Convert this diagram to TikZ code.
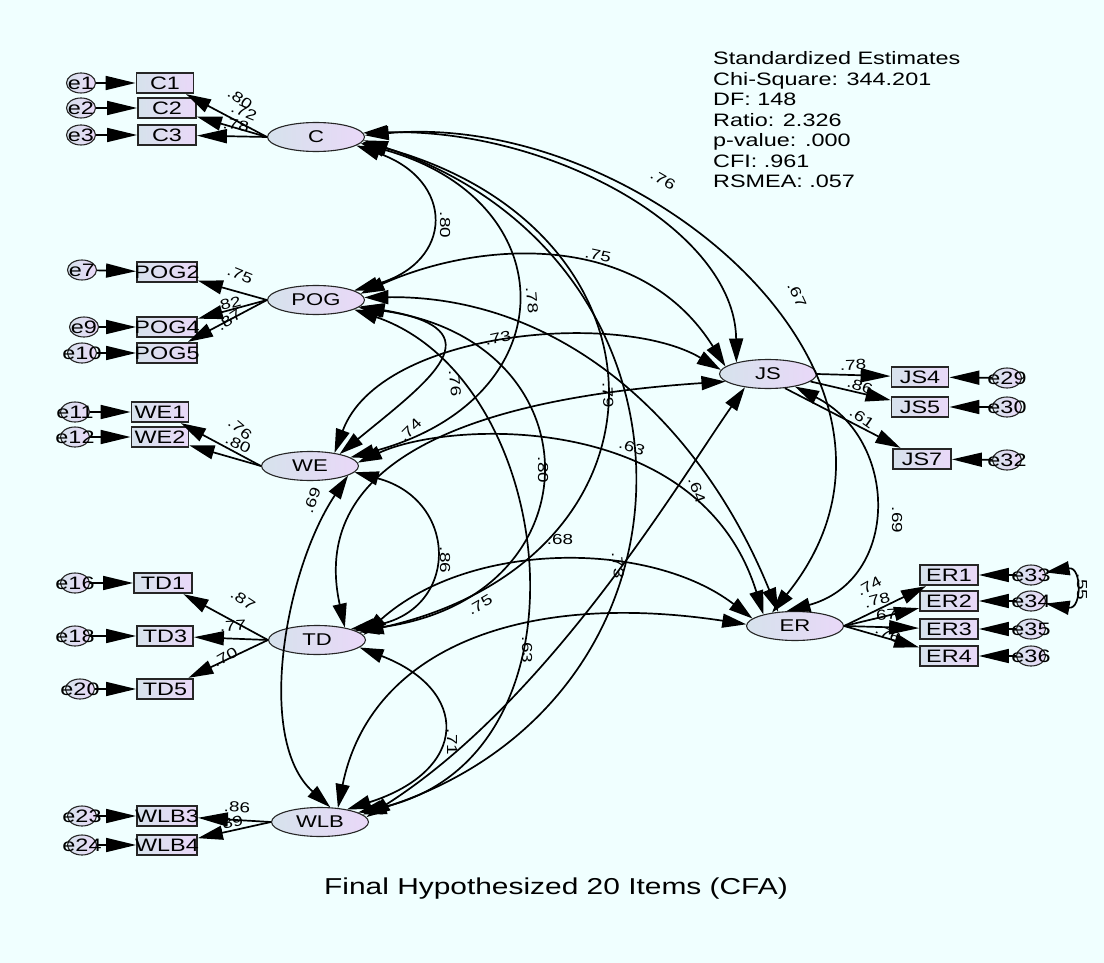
\documentclass[tikz,border=0pt]{standalone}
\usepackage{fontspec}
\setmainfont{Liberation Sans}[FakeStretch=1.3]
\usetikzlibrary{shapes.geometric,arrows.meta}
\definecolor{bgcol}{RGB}{240,255,255}
\definecolor{shadeL}{RGB}{214,226,236}
\definecolor{shadeR}{RGB}{233,216,248}
\tikzset{
  lat/.style={ellipse, draw=black!85, line width=1.1pt, minimum width=97pt, minimum height=29pt,
    inner sep=0pt, left color=shadeL, right color=shadeR, font=\fontsize{17}{17}\selectfont},
  obs/.style={rectangle, draw=black!85, line width=1.8pt, minimum width=58pt, minimum height=20.5pt,
    inner sep=0pt, left color=shadeL, right color=shadeR, font=\fontsize{18}{18}\selectfont},
  err/.style={ellipse, draw=black!85, line width=1.1pt, minimum width=29pt, minimum height=20pt,
    inner sep=0pt, left color=shadeL, right color=shadeR, font=\fontsize{18}{18}\selectfont},
  ld/.style={-{Triangle[length=30pt,width=14pt]}, line width=1.7pt},
  ldd/.style={-{Triangle[length=25pt,width=14pt]}, line width=1.7pt},
  cov/.style={{Triangle[length=24pt,width=14pt]}-{Triangle[length=24pt,width=14pt]}, line width=1.7pt},
  lbl/.style={inner sep=0pt, font=\fontsize{14.5}{14.5}\selectfont}
}
\newcommand{\ovl}[1]{\makebox[0pt]{#1}}
\begin{document}
\begin{tikzpicture}[x=1pt,y=-1pt]
\fill[bgcol] (0,0) rectangle (1104,963);
\useasboundingbox (0,0) rectangle (1104,963);

% latent variables
\node[lat] (C)   at (316,137) {C};
\node[lat] (POG) at (316,300) {POG};
\node[lat] (WE)  at (310,466) {WE};
\node[lat] (TD)  at (317,640) {TD};
\node[lat] (WLB) at (320,822) {WLB};
\node[lat] (JS)  at (768,374) {JS};
\node[lat] (ER)  at (795,626) {ER};

% indicators
\node[obs, minimum width=57pt] (C1) at (165,83) {\ovl{C1}};
\node[obs] (C2) at (167,108) {\ovl{C2}};
\node[obs] (C3) at (167,135) {\ovl{C3}};
\node[obs, minimum width=60pt] (POG2) at (167,272) {\ovl{POG2}};
\node[obs, minimum width=60pt] (POG4) at (167,327) {\ovl{POG4}};
\node[obs, minimum width=60pt] (POG5) at (167,353) {\ovl{POG5}};
\node[obs, minimum width=57pt] (WE1) at (160,412) {\ovl{WE1}};
\node[obs, minimum width=57pt] (WE2) at (160,437) {\ovl{WE2}};
\node[obs] (TD1) at (163,583) {\ovl{TD1}};
\node[obs, minimum width=56pt] (TD3) at (165,636) {\ovl{TD3}};
\node[obs, minimum width=56pt] (TD5) at (165,689) {\ovl{TD5}};
\node[obs, minimum width=60pt] (WLB3) at (167,816) {\ovl{WLB3}};
\node[obs, minimum width=60pt] (WLB4) at (167,845) {\ovl{WLB4}};
\node[obs, minimum width=57pt] (JS4) at (920,377) {\ovl{JS4}};
\node[obs, minimum width=57pt] (JS5) at (920,407) {\ovl{JS5}};
\node[obs, minimum width=58pt] (JS7) at (922,459) {\ovl{JS7}};
\node[obs] (ER1) at (949,575) {\ovl{ER1}};
\node[obs] (ER2) at (949,601) {\ovl{ER2}};
\node[obs] (ER3) at (949,629) {\ovl{ER3}};
\node[obs] (ER4) at (949,656) {\ovl{ER4}};

% error terms
\node[err] (e1)  at (81,83)  {\ovl{e1}};
\node[err] (e2)  at (81,108) {\ovl{e2}};
\node[err] (e3)  at (81,135) {\ovl{e3}};
\node[err] (e7)  at (82,270) {\ovl{e7}};
\node[err] (e9)  at (84,327) {\ovl{e9}};
\node[err] (e10) at (82,353) {\ovl{e10}};
\node[err] (e11) at (75,412) {\ovl{e11}};
\node[err] (e12) at (75,437) {\ovl{e12}};
\node[err] (e16) at (75,583) {\ovl{e16}};
\node[err] (e18) at (75,636) {\ovl{e18}};
\node[err] (e20) at (80,689) {\ovl{e20}};
\node[err] (e23) at (82,816) {\ovl{e23}};
\node[err] (e24) at (82,845) {\ovl{e24}};
\node[err] (e29) at (1007,378) {\ovl{e29}};
\node[err] (e30) at (1007,407) {\ovl{e30}};
\node[err] (e32) at (1007,460) {\ovl{e32}};
\node[err] (e33) at (1031,575) {\ovl{e33}};
\node[err] (e34) at (1031,601) {\ovl{e34}};
\node[err] (e35) at (1031,629) {\ovl{e35}};
\node[err] (e36) at (1031,656) {\ovl{e36}};

% error paths
\foreach \e/\v in {e1/C1,e2/C2,e3/C3,e7/POG2,e9/POG4,e10/POG5,e11/WE1,e12/WE2,
  e16/TD1,e18/TD3,e20/TD5,e23/WLB3,e24/WLB4,e29/JS4,e30/JS5,e32/JS7,
  e33/ER1,e34/ER2,e35/ER3,e36/ER4}
  \draw[ld] (\e) -- (\v);

% loadings
\draw[ldd] (C.west) -- (C1);
\draw[ldd] (C.west) -- (C2);
\draw[ld]  (C.west) -- (C3);
\draw[ldd] (POG.west) -- (POG2);
\draw[ldd] (POG.west) -- (POG4);
\draw[ldd] (POG.west) -- (POG5);
\draw[ldd] (WE.west) -- (WE1);
\draw[ldd] (WE.west) -- (WE2);
\draw[ldd] (TD.west) -- (TD1);
\draw[ld]  (TD.west) -- (TD3);
\draw[ldd] (TD.west) -- (TD5);
\draw[ld]  (WLB.west) -- (WLB3);
\draw[ldd] (WLB.west) -- (WLB4);
\draw[ld]  (JS.east) -- (JS4);
\draw[ldd] (JS.-10) -- (JS5);
\draw[ldd] (JS.-40) -- (JS7);
\draw[ldd] (ER.east) -- (ER1);
\draw[ldd] (ER.east) -- (ER2);
\draw[ld]  (ER.east) -- (ER3);
\draw[ldd] (ER.east) -- (ER4);

% loading estimates
\node[lbl, rotate=-35] (m1) at (240,99) {.80};
\node[lbl, rotate=-22] (m2) at (244,112) {.72};
\node[lbl, rotate=-8]  (m3) at (236,125) {.78};
\node[lbl, rotate=-22] (m4) at (240,275) {.75};
\node[lbl, rotate=15]  (m5) at (228,304) {.82};
\node[lbl, rotate=33]  (m6) at (229,320) {.87};
\node[lbl, rotate=-40] (m7) at (240,429) {.76};
\node[lbl, rotate=-25] (m8) at (238,444) {.80};
\node[lbl, rotate=-34] (m9) at (243,600) {.87};
\node[lbl, rotate=3]   (m10) at (233,626) {.77};
\node[lbl, rotate=30]  (m11) at (225,657) {.70};
\node[lbl, rotate=-3]  (m12) at (237,807) {.86};
\node[lbl, rotate=15]  (m13) at (230,823) {.89};
\node[lbl, rotate=2]   (m14) at (853,365) {.78};
\node[lbl, rotate=-18] (m15) at (860,386) {.86};
\node[lbl, rotate=-35] (m16) at (862,418) {.61};
\node[lbl, rotate=30]  (m17) at (869,586) {.74};
\node[lbl, rotate=15]  (m18) at (877,600) {.78};
\node[lbl, rotate=3]   (m19) at (884,615) {.67};
\node[lbl, rotate=-25] (m20) at (888,634) {.76};

% covariances among latent variables
\draw[cov] (C.-12) .. controls (455,180) and (455,262) .. (POG.14);
\draw[cov] (C.5)   .. controls (550,128) and (735,230) .. (JS.160);
\draw[cov] (C.2)   .. controls (640,110) and (960,380) .. (ER.150);
\draw[cov] (C.-8)  .. controls (568,200) and (568,400) .. (WE.12);
\draw[cov] (C.-6)  .. controls (684,230) and (684,560) .. (TD.10);
\draw[cov] (C.-4)  .. controls (720,260) and (720,700) .. (WLB.10);
\draw[cov] (POG.-8)  .. controls (500,330) and (430,380) .. (WE.22);
\draw[cov] (POG.-10) .. controls (600,340) and (600,600) .. (TD.14);
\draw[cov] (POG.8)   .. controls (480,240) and (640,230) .. (JS.170);
\draw[cov] (POG.3)   .. controls (560,295) and (700,420) .. (ER.140);
\draw[cov] (POG.-14) .. controls (560,380) and (600,760) .. (WLB.14);
\draw[cov] (WE.-8)  .. controls (460,500) and (460,612) .. (TD.18);
\draw[cov] (WE.28)  .. controls (380,330) and (620,310) .. (JS.175);
\draw[cov] (WE.4)   .. controls (450,420) and (700,410) .. (ER.160);
\draw[cov] (WE.-14) .. controls (285,570) and (255,740) .. (WLB.55);
\draw[cov] (TD.24)  .. controls (310,470) and (450,400) .. (JS.-170);
\draw[cov] (TD.6)   .. controls (470,540) and (650,540) .. (ER.170);
\draw[cov] (TD.-10) .. controls (470,690) and (470,770) .. (WLB.25);
\draw[cov] (WLB.6)  .. controls (550,700) and (680,480) .. (JS.-150);
\draw[cov] (WLB.38) .. controls (370,650) and (520,590) .. (ER.178);
\draw[cov] (JS.-25) .. controls (900,440) and (900,580) .. (ER.120);
\draw[cov] (e33) .. controls (1082,566) and (1082,610) .. (e34);

% correlation estimates
\node[lbl, rotate=-90] (k1)  at (445,225) {.80};
\node[lbl, rotate=-30] (k2)  at (663,180) {.76};
\node[lbl, rotate=-12] (k3)  at (598,255) {.75};
\node[lbl, rotate=-65] (k4)  at (797,295) {.67};
\node[lbl, rotate=-85] (k5)  at (532,300) {.78};
\node[lbl, rotate=12]  (k6)  at (498,338) {.73};
\node[lbl, rotate=-85] (k7)  at (455,383) {.76};
\node[lbl, rotate=45]  (k8)  at (410,430) {.74};
\node[lbl, rotate=-88] (k9)  at (608,395) {.79};
\node[lbl, rotate=-20] (k10) at (632,447) {.63};
\node[lbl, rotate=-70] (k11) at (697,490) {.64};
\node[lbl, rotate=-90] (k12) at (543,470) {.80};
\node[lbl, rotate=70]  (k13) at (312,500) {.69};
\node[lbl]             (k14) at (560,540) {.68};
\node[lbl, rotate=-90] (k15) at (445,560) {.86};
\node[lbl, rotate=-85] (k16) at (618,565) {.73};
\node[lbl, rotate=-90] (k17) at (527,650) {.63};
\node[lbl, rotate=30]  (k18) at (480,605) {.75};
\node[lbl, rotate=-90] (k19) at (452,742) {.71};
\node[lbl, rotate=-90] (k20) at (897,520) {.69};
\node[lbl, rotate=-90] (k21) at (1082,587) {.55};

% fit statistics and caption
\node[anchor=north west, inner sep=0pt, align=left,
  font=\fontsize{18}{20.5}\selectfont] (fit) at (713,51.5)
  {Standardized Estimates\\Chi-Square: 344.201\\DF: 148\\Ratio: 2.326\\p-value: .000\\CFI: .961\\RSMEA: .057};
\node[inner sep=0pt, font=\fontsize{23}{23}\selectfont] (cap) at (556,889)
  {Final Hypothesized 20 Items (CFA)};
\end{tikzpicture}
\end{document}
